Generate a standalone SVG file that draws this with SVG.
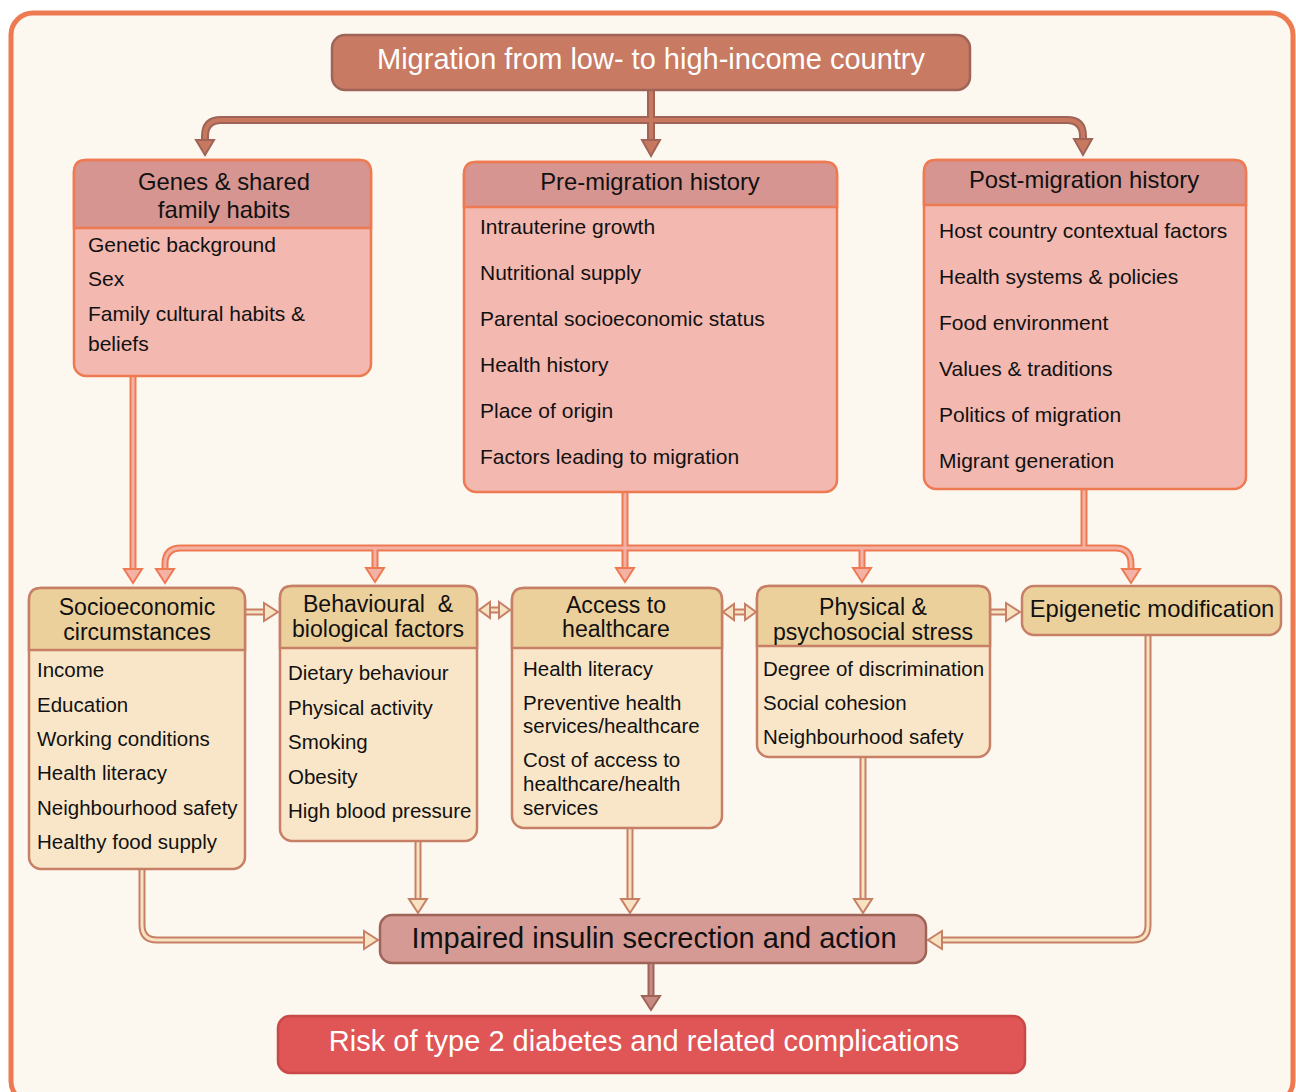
<svg xmlns="http://www.w3.org/2000/svg" width="1296" height="1092" viewBox="0 0 1296 1092">
<style>
text{font-family:"Liberation Sans",Arial,sans-serif;fill:#111}
.item{font-size:21px}
.titem{font-size:20.5px}
.hd{font-size:23.8px;text-anchor:middle}
.thd{font-size:23.1px;text-anchor:middle}
.pink-b{fill:#f3b8b0;stroke:#ee7a52;stroke-width:2.5}
.pink-h{fill:#d69590;stroke:#ee7a52;stroke-width:2.5}
.tan-b{fill:#f9e6c8;stroke:#c77f66;stroke-width:2.5}
.tan-h{fill:#ecd09c;stroke:#c77f66;stroke-width:2.5}
.t-o{fill:none;stroke:#9e6458;stroke-width:8}
.t-i{fill:none;stroke:#c8785e;stroke-width:4}
.t-h{fill:#c8785e;stroke:#9e6458;stroke-width:2;stroke-linejoin:miter}
.o-o{fill:none;stroke:#ee7a52;stroke-width:7}
.o-i{fill:none;stroke:#f4b2a6;stroke-width:3}
.o-h{fill:#f4b2a6;stroke:#ee7a52;stroke-width:2}
.b-o{fill:none;stroke:#c77f66;stroke-width:7}
.b-i{fill:none;stroke:#f7e3c2;stroke-width:3}
.b-h{fill:#f7e3c2;stroke:#c77f66;stroke-width:2}
.f-o{fill:none;stroke:#9e6458;stroke-width:7}
.f-i{fill:none;stroke:#c98a84;stroke-width:3}
.f-h{fill:#c98a84;stroke:#9e6458;stroke-width:2}
</style>
<rect x="11" y="13" width="1282" height="1090" rx="22" fill="#fcf8f0" stroke="#ee7a52" stroke-width="5"/>

<g id="connectors">
  <path class="t-o" d="M651,90 V142 M651,120 H221 Q205,120 205,136 V141 M651,120 H1067 Q1083,120 1083,136 V140"/>
  <path class="t-i" d="M651,90 V142 M651,120 H221 Q205,120 205,136 V141 M651,120 H1067 Q1083,120 1083,136 V140"/>
  <polygon class="t-h" points="196,140 214,140 205,155"/>
  <polygon class="t-h" points="642,140 660,140 651,156"/>
  <polygon class="t-h" points="1074,139 1092,139 1083,155"/>
  <path class="o-o" d="M133,376 V570 M625,492 V569 M1084,489 V548 M181,548 H1115 M181,548 Q165,548 165,564 V570 M1115,548 Q1131,548 1131,564 V570 M375,548 V569 M862,548 V569"/>
  <path class="o-i" d="M133,376 V570 M625,492 V569 M1084,489 V548 M181,548 H1115 M181,548 Q165,548 165,564 V570 M1115,548 Q1131,548 1131,564 V570 M375,548 V569 M862,548 V569"/>
  <polygon class="o-h" points="124,569 142,569 133,583"/>
  <polygon class="o-h" points="156,569 174,569 165,583"/>
  <polygon class="o-h" points="366,568 384,568 375,582"/>
  <polygon class="o-h" points="616,568 634,568 625,582"/>
  <polygon class="o-h" points="853,568 871,568 862,582"/>
  <polygon class="o-h" points="1122,569 1140,569 1131,583"/>
  <path class="b-o" d="M142,869 V925 Q142,940 157,940 H365 M418,841 V900 M630,828 V900 M863,757 V900 M1148,635 V925 Q1148,940 1133,940 H941 M245,612 H265 M990,612 H1007 M488,610 H501 M732,612 H747"/>
  <path class="b-i" d="M142,869 V925 Q142,940 157,940 H365 M418,841 V900 M630,828 V900 M863,757 V900 M1148,635 V925 Q1148,940 1133,940 H941 M245,612 H265 M990,612 H1007 M488,610 H501 M732,612 H747"/>
  <polygon class="b-h" points="364,931 364,949 378,940"/>
  <polygon class="b-h" points="409,899 427,899 418,913"/>
  <polygon class="b-h" points="621,899 639,899 630,913"/>
  <polygon class="b-h" points="854,899 872,899 863,913"/>
  <polygon class="b-h" points="942,931 942,949 928,940"/>
  <polygon class="b-h" points="264,603 264,621 278,612"/>
  <polygon class="b-h" points="1006,603 1006,621 1020,612"/>
  <polygon class="b-h" points="490,602 490,618 479,610"/>
  <polygon class="b-h" points="499,602 499,618 510,610"/>
  <polygon class="b-h" points="734,604 734,620 723,612"/>
  <polygon class="b-h" points="745,604 745,620 756,612"/>
  <path class="f-o" d="M651,963 V997"/>
  <path class="f-i" d="M651,963 V997"/>
  <polygon class="f-h" points="642,996 660,996 651,1010"/>
</g>

<g id="migration">
  <rect x="332" y="35" width="638" height="55" rx="13" fill="#c87a62" stroke="#9e6458" stroke-width="2.5"/>
  <text x="651" y="69" font-size="29" text-anchor="middle" style="fill:#fff">Migration from low- to high-income country</text>
</g>

<g id="genes">
  <rect class="pink-b" x="74" y="160" width="297" height="216" rx="12"/>
  <path class="pink-h" d="M74,228 V172 Q74,160 86,160 H359 Q371,160 371,172 V228 Z"/>
  <text class="hd" x="224" y="190">Genes &amp; shared</text>
  <text class="hd" x="224" y="218">family habits</text>
  <text class="item" x="88" y="252">Genetic background</text>
  <text class="item" x="88" y="286">Sex</text>
  <text class="item" x="88" y="321">Family cultural habits &amp;</text>
  <text class="item" x="88" y="351">beliefs</text>
</g>

<g id="pre">
  <rect class="pink-b" x="464" y="162" width="373" height="330" rx="12"/>
  <path class="pink-h" d="M464,207 V174 Q464,162 476,162 H825 Q837,162 837,174 V207 Z"/>
  <text class="hd" x="650" y="190">Pre-migration history</text>
  <text class="item" x="480" y="234">Intrauterine growth</text>
  <text class="item" x="480" y="280">Nutritional supply</text>
  <text class="item" x="480" y="326">Parental socioeconomic status</text>
  <text class="item" x="480" y="372">Health history</text>
  <text class="item" x="480" y="418">Place of origin</text>
  <text class="item" x="480" y="464">Factors leading to migration</text>
</g>

<g id="post">
  <rect class="pink-b" x="924" y="160" width="322" height="329" rx="12"/>
  <path class="pink-h" d="M924,205 V172 Q924,160 936,160 H1234 Q1246,160 1246,172 V205 Z"/>
  <text class="hd" x="1084" y="188">Post-migration history</text>
  <text class="item" x="939" y="238">Host country contextual factors</text>
  <text class="item" x="939" y="284">Health systems &amp; policies</text>
  <text class="item" x="939" y="330">Food environment</text>
  <text class="item" x="939" y="376">Values &amp; traditions</text>
  <text class="item" x="939" y="422">Politics of migration</text>
  <text class="item" x="939" y="468">Migrant generation</text>
</g>

<g id="socio">
  <rect class="tan-b" x="29" y="588" width="216" height="281" rx="12"/>
  <path class="tan-h" d="M29,650 V600 Q29,588 41,588 H233 Q245,588 245,600 V650 Z"/>
  <text class="thd" x="137" y="615">Socioeconomic</text>
  <text class="thd" x="137" y="640">circumstances</text>
  <text class="titem" x="37" y="677">Income</text>
  <text class="titem" x="37" y="712">Education</text>
  <text class="titem" x="37" y="746">Working conditions</text>
  <text class="titem" x="37" y="780">Health literacy</text>
  <text class="titem" x="37" y="815">Neighbourhood safety</text>
  <text class="titem" x="37" y="849">Healthy food supply</text>
</g>

<g id="behav">
  <rect class="tan-b" x="280" y="586" width="197" height="255" rx="12"/>
  <path class="tan-h" d="M280,648 V598 Q280,586 292,586 H465 Q477,586 477,598 V648 Z"/>
  <text class="thd" x="378" y="612" xml:space="preserve">Behavioural  &amp;</text>
  <text class="thd" x="378" y="637">biological factors</text>
  <text class="titem" x="288" y="680">Dietary behaviour</text>
  <text class="titem" x="288" y="715">Physical activity</text>
  <text class="titem" x="288" y="749">Smoking</text>
  <text class="titem" x="288" y="784">Obesity</text>
  <text class="titem" x="288" y="818">High blood pressure</text>
</g>

<g id="access">
  <rect class="tan-b" x="512" y="588" width="210" height="240" rx="12"/>
  <path class="tan-h" d="M512,648 V600 Q512,588 524,588 H710 Q722,588 722,600 V648 Z"/>
  <text class="thd" x="616" y="613">Access to</text>
  <text class="thd" x="616" y="637">healthcare</text>
  <text class="titem" x="523" y="676">Health literacy</text>
  <text class="titem" x="523" y="710">Preventive health</text>
  <text class="titem" x="523" y="733">services/healthcare</text>
  <text class="titem" x="523" y="767">Cost of access to</text>
  <text class="titem" x="523" y="791">healthcare/health</text>
  <text class="titem" x="523" y="815">services</text>
</g>

<g id="physical">
  <rect class="tan-b" x="757" y="586" width="233" height="171" rx="12"/>
  <path class="tan-h" d="M757,646 V598 Q757,586 769,586 H978 Q990,586 990,598 V646 Z"/>
  <text class="thd" x="873" y="615">Physical &amp;</text>
  <text class="thd" x="873" y="640">psychosocial stress</text>
  <text class="titem" x="763" y="676">Degree of discrimination</text>
  <text class="titem" x="763" y="710">Social cohesion</text>
  <text class="titem" x="763" y="744">Neighbourhood safety</text>
</g>

<g id="epigenetic">
  <rect class="tan-h" x="1022" y="586" width="259" height="49" rx="12"/>
  <text x="1152" y="617" font-size="23.8" text-anchor="middle">Epigenetic modification</text>
</g>

<g id="impaired">
  <rect x="380" y="915" width="546" height="48" rx="12" fill="#d69a94" stroke="#9e6458" stroke-width="2.5"/>
  <text x="654" y="948" font-size="29" text-anchor="middle">Impaired insulin secrection and action</text>
</g>

<g id="risk">
  <rect x="278" y="1016" width="747" height="57" rx="12" fill="#e05555" stroke="#c94848" stroke-width="2.5"/>
  <text x="644" y="1051" font-size="29" text-anchor="middle" style="fill:#fff">Risk of type 2 diabetes and related complications</text>
</g>
</svg>
